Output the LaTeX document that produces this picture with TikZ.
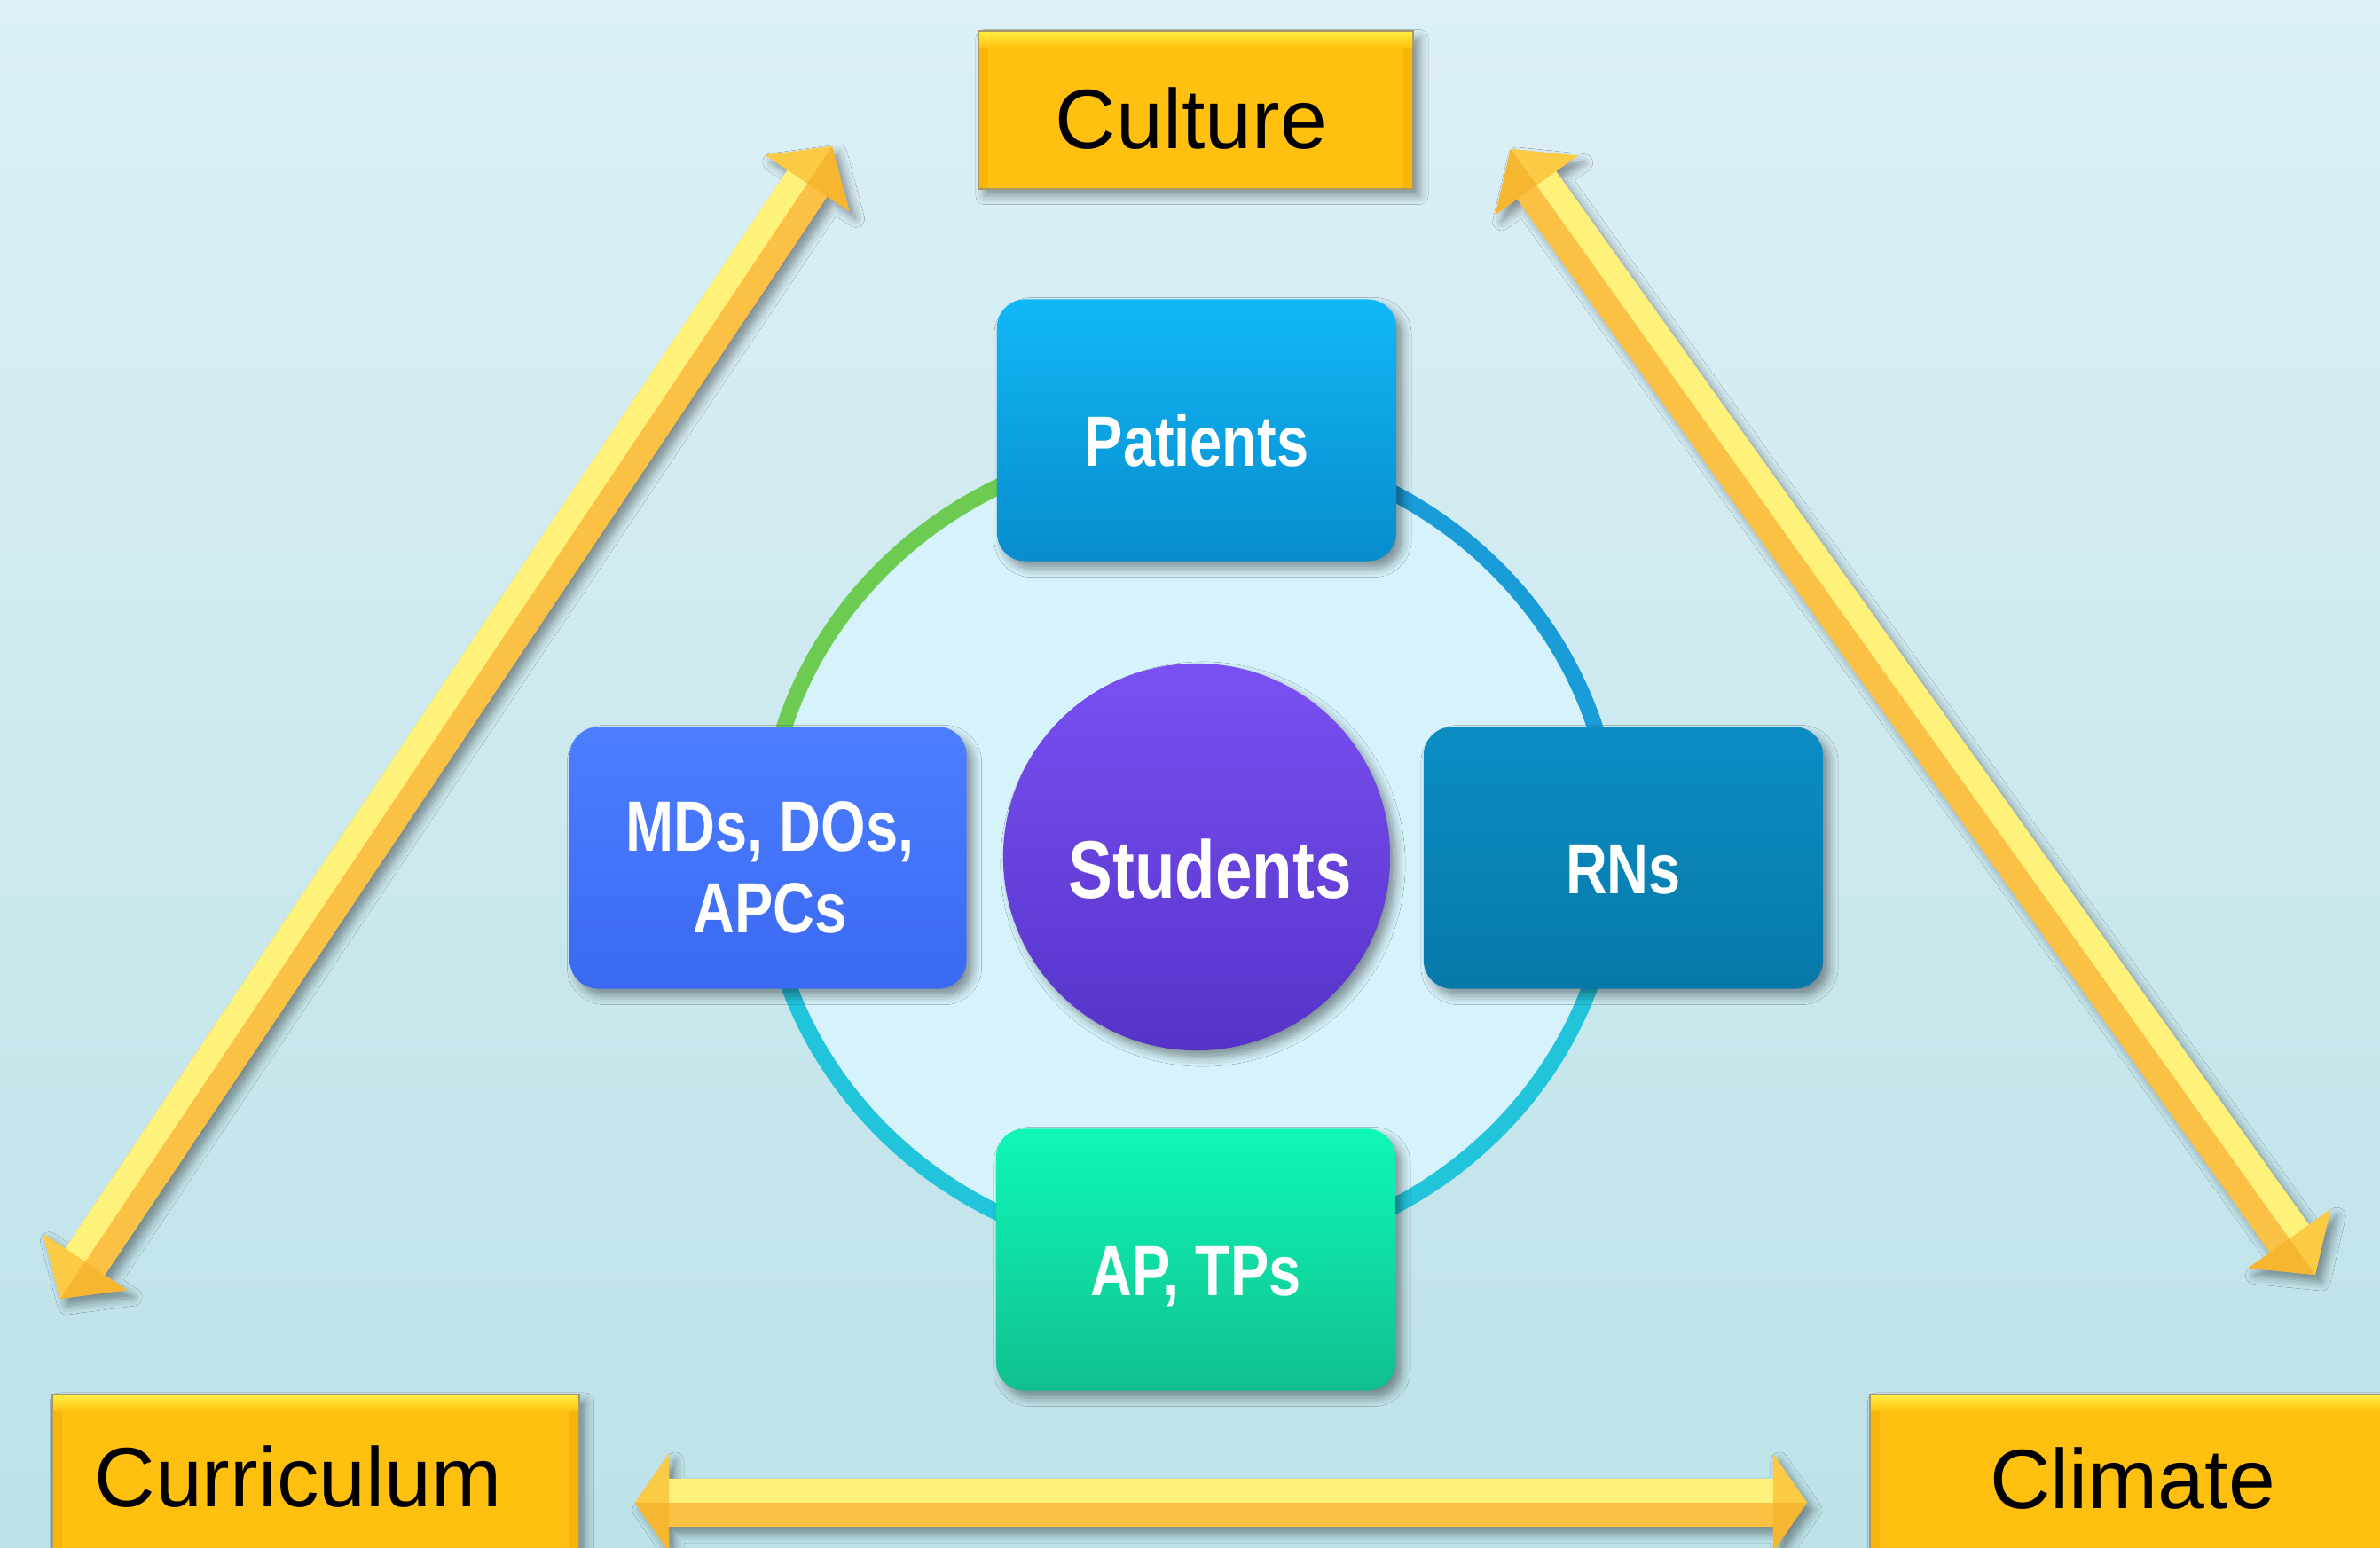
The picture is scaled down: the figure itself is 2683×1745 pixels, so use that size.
\documentclass[tikz,border=0pt]{standalone}
\usepackage{fontspec}
\setmainfont{Liberation Sans}
\newfontfamily\condfont[FakeStretch=0.81]{Liberation Sans}
\usetikzlibrary{calc,shadows.blur}

\definecolor{bgtop}{HTML}{DCF0F6}
\definecolor{bgbottom}{HTML}{BCE2E8}
\definecolor{gold}{HTML}{FFC00F}
\definecolor{goldlight}{HTML}{FFEC3E}
\definecolor{goldedge}{HTML}{F2AE08}
\definecolor{goldframe}{HTML}{A8976A}
\definecolor{shaftlight}{HTML}{FFF27A}
\definecolor{shaftdark}{HTML}{FAC144}
\definecolor{headlight}{HTML}{FCCB45}
\definecolor{headdark}{HTML}{F6B630}
\definecolor{ringfill}{HTML}{D6F2FA}
\definecolor{ringgreen}{HTML}{6CCB50}
\definecolor{ringblue}{HTML}{1A9CD8}
\definecolor{ringcyan}{HTML}{22C4DC}
\definecolor{patTop}{HTML}{10B8F8}
\definecolor{patBot}{HTML}{088CCC}
\definecolor{mdTop}{HTML}{4D7EFF}
\definecolor{mdBot}{HTML}{3A69F2}
\definecolor{rnTop}{HTML}{0B8DC4}
\definecolor{rnBot}{HTML}{0779A8}
\definecolor{apTop}{HTML}{0FF8B8}
\definecolor{apBot}{HTML}{10C08E}
\definecolor{stuTop}{HTML}{7A50F2}
\definecolor{stuMid}{HTML}{5A37CD}
\definecolor{stuBot}{HTML}{5533C8}

\tikzset{
  softshadow/.style={blur shadow={shadow xshift=0.07cm, shadow yshift=-0.08cm,
      shadow blur radius=0.1cm, shadow opacity=40}},
  goldbox/.style={rectangle, draw=goldframe, line width=0.6pt, fill=gold,
      inner sep=0pt, softshadow},
  goldlabel/.style={anchor=base, inner sep=0pt, text=black,
      font=\fontsize{27}{30}\selectfont},
  roundbox/.style={rectangle, rounded corners=0.32cm, minimum width=4.50cm,
      minimum height=2.95cm, text=white, align=center, inner sep=0pt,
      text height=0.80cm, text depth=0pt,
      font=\condfont\bfseries\fontsize{22.8}{25.3}\selectfont, softshadow},
  boxtext/.style={text=white, align=center, inner sep=0pt,
      font=\condfont\bfseries\fontsize{22.8}{26}\selectfont},
  ringarc/.style={line width=0.18cm},
}

% double-headed bevelled arrow between two coordinates:
% #1,#2 tips, #3 head length, #4 head half width, #5 shaft half width
\newcommand\fatarrow[5]{%
  \coordinate (fa-a) at ($(#1)!#3!(#2)$);
  \coordinate (fa-b) at ($(#2)!#3!(#1)$);
  \coordinate (fa-ahn) at ($(fa-a)!#4!90:(#2)$);
  \coordinate (fa-ahs) at ($(fa-a)!#4!-90:(#2)$);
  \coordinate (fa-asn) at ($(fa-a)!#5!90:(#2)$);
  \coordinate (fa-ass) at ($(fa-a)!#5!-90:(#2)$);
  \coordinate (fa-bhn) at ($(fa-b)!#4!-90:(#1)$);
  \coordinate (fa-bhs) at ($(fa-b)!#4!90:(#1)$);
  \coordinate (fa-bsn) at ($(fa-b)!#5!-90:(#1)$);
  \coordinate (fa-bss) at ($(fa-b)!#5!90:(#1)$);
  \fill[shaftdark, softshadow] (#1) -- (fa-ahn) -- (fa-asn) -- (fa-bsn) -- (fa-bhn)
     -- (#2) -- (fa-bhs) -- (fa-bss) -- (fa-ass) -- (fa-ahs) -- cycle;
  \fill[shaftlight] (fa-a) -- (fa-asn) -- (fa-bsn) -- (fa-b) -- cycle;
  \fill[headlight] (#1) -- (fa-ahn) -- (fa-a) -- cycle;
  \fill[headdark]  (#1) -- (fa-ahs) -- (fa-a) -- cycle;
  \fill[headlight] (#2) -- (fa-bhn) -- (fa-b) -- cycle;
  \fill[headdark]  (#2) -- (fa-bhs) -- (fa-b) -- cycle;
}

\begin{document}
\begin{tikzpicture}[x=0.01cm, y=-0.01cm]
  % canvas
  \useasboundingbox (0,0) rectangle (2683,1745);
  \shade[top color=bgtop, bottom color=bgbottom] (0,0) rectangle (2683,1745);

  % arrow end points
  \coordinate (L1) at (68,1464);
  \coordinate (L2) at (938,165);
  \coordinate (R1) at (1703,168);
  \coordinate (R2) at (2610,1437);
  \coordinate (B1) at (716,1694);
  \coordinate (B2) at (2037,1694);

  \fatarrow{L1}{L2}{0.50cm}{0.57cm}{0.27cm}
  \fatarrow{R1}{R2}{0.50cm}{0.57cm}{0.27cm}
  \fatarrow{B1}{B2}{0.38cm}{0.55cm}{0.27cm}

  % ring behind the four groups
  \coordinate (ringc) at (1341,958);
  \fill[ringfill] (ringc) ellipse [x radius=4.79cm, y radius=4.58cm];
  \draw[ringarc, ringgreen] (ringc) ++(90:4.79cm and 4.58cm)
     arc [start angle=90, end angle=180, x radius=4.79cm, y radius=4.58cm];
  \draw[ringarc, ringblue] (ringc) ++(0:4.79cm and 4.58cm)
     arc [start angle=0, end angle=90, x radius=4.79cm, y radius=4.58cm];
  \draw[ringarc, ringcyan] (ringc) ++(180:4.79cm and 4.58cm)
     arc [start angle=180, end angle=360, x radius=4.79cm, y radius=4.58cm];

  % the four groups
  \node[roundbox, top color=patTop, bottom color=patBot] (patients) at (1349,485) {Patients};
  \node[roundbox, minimum width=4.47cm, top color=mdTop, bottom color=mdBot] (mds) at (866,967) {};
  \node[boxtext] (mdsText) at (868,978) {MDs, DOs,\\APCs};
  \node[roundbox, top color=rnTop, bottom color=rnBot] (rns) at (1830,967) {RNs};
  \node[roundbox, top color=apTop, bottom color=apBot] (aps) at (1348,1420) {AP, TPs};

  % centre
  \node[circle, minimum size=4.36cm, inner sep=0pt, top color=stuTop, middle color=stuMid,
        bottom color=stuBot, softshadow] (students) at (1349,966) {};
  \node[text=white, inner sep=0pt, text height=0.92cm, text depth=0pt,
        font=\condfont\bfseries\fontsize{26.2}{30}\selectfont] (studentsText) at (1364,966) {Students};

  % outer labels
  \node[goldbox, minimum width=4.90cm, minimum height=1.77cm] (culture) at (1348,124) {};
  \node[goldbox, minimum width=5.93cm, minimum height=1.90cm] (curriculum) at (356,1667) {};
  \node[goldbox, minimum width=5.93cm, minimum height=1.90cm] (climate) at (2405,1667) {};
  \foreach \b in {culture, curriculum, climate} {
    \shade[top color=goldlight, bottom color=gold]
      ([xshift=0.6pt, yshift=-0.6pt]\b.north west) rectangle ([xshift=-0.6pt, yshift=-0.2cm]\b.north east);
    \fill[goldedge, opacity=0.6]
      ([xshift=0.6pt, yshift=-0.2cm]\b.north west) rectangle ([xshift=0.12cm, yshift=0.6pt]\b.south west);
    \fill[goldedge, opacity=0.6]
      ([xshift=-0.6pt, yshift=-0.2cm]\b.north east) rectangle ([xshift=-0.12cm, yshift=0.6pt]\b.south east);
  }
  \node[goldlabel] (cultureText) at (1343,167) {Culture};
  \node[goldlabel] (curriculumText) at (336,1698) {Curriculum};
  \node[goldlabel] (climateText) at (2404,1700) {Climate};
\end{tikzpicture}
\end{document}
